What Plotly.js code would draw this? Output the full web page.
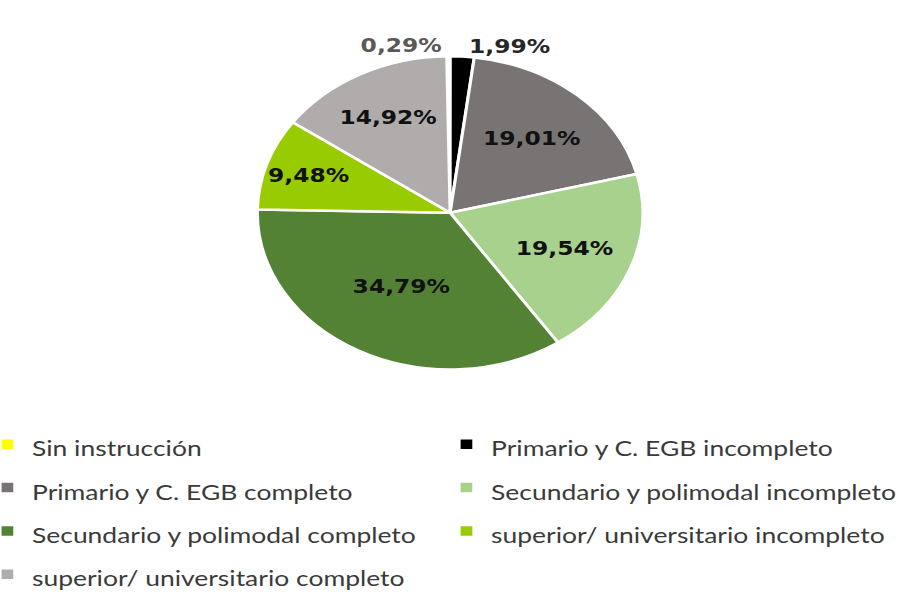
<!DOCTYPE html>
<html>
<head>
<meta charset="utf-8">
<script src="https://cdn.plot.ly/plotly-3.0.1.min.js"></script>
<style>
html,body{margin:0;padding:0;background:#fff;overflow:hidden;}
#chart{width:751px;height:592px;transform:translateX(-17.2px) scaleX(1.2307);transform-origin:0 0;}
</style>
</head>
<body>
<div id="chart"></div>
<script>
const categories = [
  "Sin instrucción",
  "Primario y C. EGB incompleto",
  "Primario y C. EGB completo",
  "Secundario y polimodal incompleto",
  "Secundario y polimodal completo",
  "superior/ universitario incompleto",
  "superior/ universitario completo"
];
const percentages = [0.29, 1.99, 19.01, 19.54, 34.79, 9.48, 14.92];
const sliceColors = ["#ffff00", "#000000", "#797474", "#a9d18e", "#548235", "#99cc00", "#b0acac"];
const labelPositions = ["outside", "outside", "inside", "inside", "inside", "inside", "inside"];
const labelColors = ["#595959", "#262626", "#111111", "#111111", "#111111", "#111111", "#111111"];

const legendNames = categories.map(c => '<span style="font-size:21.5px">' + c + '</span>');

const trace = {
  type: "pie",
  labels: legendNames,
  values: percentages,
  sort: false,
  direction: "clockwise",
  rotation: -1,
  marker: {colors: sliceColors, line: {color: "#ffffff", width: 2.5}},
  texttemplate: "%{value:.2f}%",
  textposition: labelPositions,
  insidetextorientation: "horizontal",
  textfont: {family: "DejaVu Sans", size: 19, color: labelColors, weight: "bold"},
  hoverinfo: "label+value",
  domain: {x: [0.0112, 1], y: [0.376, 0.905]}
};

const layout = {
  width: 751,
  height: 592,
  margin: {l: 0, r: 0, t: 0, b: 0, autoexpand: false},
  separators: ",.",
  paper_bgcolor: "#ffffff",
  uniformtext: {mode: "show", minsize: 19},
  showlegend: true,
  legend: {
    orientation: "h",
    x: 0,
    xanchor: "left",
    y: 0.2945,
    yanchor: "top",
    entrywidth: 328,
    entrywidthmode: "pixels",
    font: {family: "Lato", size: 31, color: "#3a3a3a"},
    traceorder: "normal"
  }
};

Plotly.newPlot("chart", [trace], layout, {displayModeBar: false, staticPlot: true});
</script>
</body>
</html>
